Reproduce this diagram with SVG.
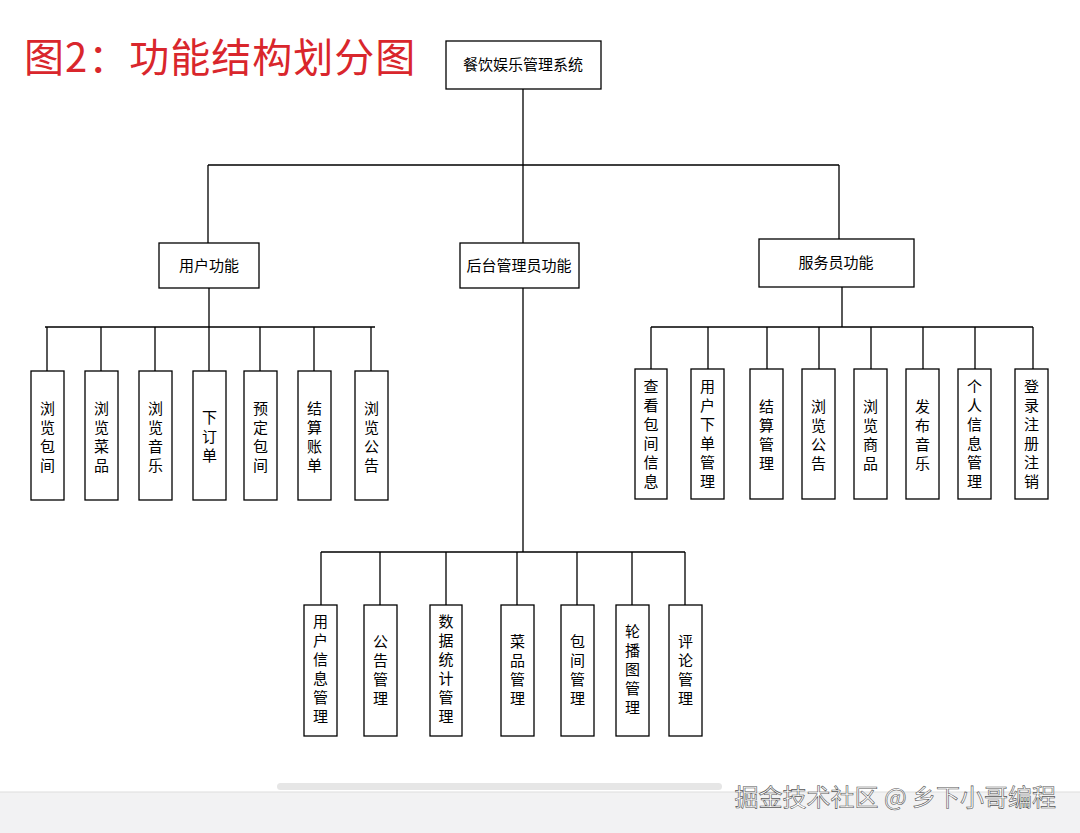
<svg xmlns="http://www.w3.org/2000/svg" width="1080" height="833" viewBox="0 0 1080 833">
<style>
.b{fill:#fff;stroke:#000;stroke-width:1.3}
.t{font-family:"Noto Sans CJK SC",sans-serif;font-size:15px;fill:#000;text-anchor:middle}
.v{font-family:"Noto Sans CJK SC",sans-serif;font-size:15px;fill:#000;text-anchor:middle}
#c path{fill:none;stroke:#000;stroke-width:1.3}
</style>
<rect width="1080" height="833" fill="#fff"/>
<text x="24" y="72" font-family="Noto Sans CJK SC,sans-serif" font-size="40" letter-spacing="1" fill="#d9262c">图2：功能结构划分图</text>
<g id="c">
<path d="M523 89V243M208 165H839M208 165V243M839 165V239"/>
<path d="M209 288V327M45 327H375M47 327V371M101 327V371M155 327V371M209 327V371M260 327V371M314 327V371M371 327V371"/>
<path d="M842 287V327M651 327H1033M651 327V369M708 327V369M767 327V369M819 327V369M871 327V369M923 327V369M975 327V369M1033 327V369"/>
<path d="M523 288V552M321 552H685M321 552V605M380 552V605M446 552V605M517 552V605M577 552V605M632 552V605M685 552V605"/>
</g>
<g id="root"><rect class="b" x="446" y="41" width="155" height="48"/><text class="t" x="523" y="70">餐饮娱乐管理系统</text></g>
<g id="user"><rect class="b" x="159" y="243" width="100" height="45"/><text class="t" x="209" y="271">用户功能</text></g>
<g id="admin"><rect class="b" x="460" y="243" width="119" height="45"/><text class="t" x="519" y="271">后台管理员功能</text></g>
<g id="service"><rect class="b" x="759" y="239" width="155" height="48"/><text class="t" x="836" y="268">服务员功能</text></g>
<g id="u1"><rect class="b" x="31" y="371" width="33" height="129"/><text class="v" x="47.5"><tspan x="47.5" y="414">浏</tspan><tspan x="47.5" dy="19">览</tspan><tspan x="47.5" dy="19">包</tspan><tspan x="47.5" dy="19">间</tspan></text></g>
<g id="u2"><rect class="b" x="85" y="371" width="33" height="129"/><text class="v"><tspan x="101.5" y="414">浏</tspan><tspan x="101.5" dy="19">览</tspan><tspan x="101.5" dy="19">菜</tspan><tspan x="101.5" dy="19">品</tspan></text></g>
<g id="u3"><rect class="b" x="139" y="371" width="33" height="129"/><text class="v"><tspan x="155.5" y="414">浏</tspan><tspan x="155.5" dy="19">览</tspan><tspan x="155.5" dy="19">音</tspan><tspan x="155.5" dy="19">乐</tspan></text></g>
<g id="u4"><rect class="b" x="193" y="371" width="33" height="129"/><text class="v"><tspan x="209.5" y="423">下</tspan><tspan x="209.5" dy="19">订</tspan><tspan x="209.5" dy="19">单</tspan></text></g>
<g id="u5"><rect class="b" x="244" y="371" width="33" height="129"/><text class="v"><tspan x="260.5" y="414">预</tspan><tspan x="260.5" dy="19">定</tspan><tspan x="260.5" dy="19">包</tspan><tspan x="260.5" dy="19">间</tspan></text></g>
<g id="u6"><rect class="b" x="298" y="371" width="33" height="129"/><text class="v"><tspan x="314.5" y="414">结</tspan><tspan x="314.5" dy="19">算</tspan><tspan x="314.5" dy="19">账</tspan><tspan x="314.5" dy="19">单</tspan></text></g>
<g id="u7"><rect class="b" x="355" y="371" width="33" height="129"/><text class="v"><tspan x="371.5" y="414">浏</tspan><tspan x="371.5" dy="19">览</tspan><tspan x="371.5" dy="19">公</tspan><tspan x="371.5" dy="19">告</tspan></text></g>
<g id="s1"><rect class="b" x="635" y="369" width="32" height="130"/><text class="v"><tspan x="651" y="392">查</tspan><tspan x="651" dy="19">看</tspan><tspan x="651" dy="19">包</tspan><tspan x="651" dy="19">间</tspan><tspan x="651" dy="19">信</tspan><tspan x="651" dy="19">息</tspan></text></g>
<g id="s2"><rect class="b" x="691" y="369" width="33" height="130"/><text class="v"><tspan x="707.5" y="392">用</tspan><tspan x="707.5" dy="19">户</tspan><tspan x="707.5" dy="19">下</tspan><tspan x="707.5" dy="19">单</tspan><tspan x="707.5" dy="19">管</tspan><tspan x="707.5" dy="19">理</tspan></text></g>
<g id="s3"><rect class="b" x="750" y="369" width="33" height="130"/><text class="v"><tspan x="766.5" y="412">结</tspan><tspan x="766.5" dy="19">算</tspan><tspan x="766.5" dy="19">管</tspan><tspan x="766.5" dy="19">理</tspan></text></g>
<g id="s4"><rect class="b" x="802" y="369" width="33" height="130"/><text class="v"><tspan x="818.5" y="412">浏</tspan><tspan x="818.5" dy="19">览</tspan><tspan x="818.5" dy="19">公</tspan><tspan x="818.5" dy="19">告</tspan></text></g>
<g id="s5"><rect class="b" x="854" y="369" width="33" height="130"/><text class="v"><tspan x="870.5" y="412">浏</tspan><tspan x="870.5" dy="19">览</tspan><tspan x="870.5" dy="19">商</tspan><tspan x="870.5" dy="19">品</tspan></text></g>
<g id="s6"><rect class="b" x="906" y="369" width="33" height="130"/><text class="v"><tspan x="922.5" y="412">发</tspan><tspan x="922.5" dy="19">布</tspan><tspan x="922.5" dy="19">音</tspan><tspan x="922.5" dy="19">乐</tspan></text></g>
<g id="s7"><rect class="b" x="958" y="369" width="33" height="130"/><text class="v"><tspan x="974.5" y="392">个</tspan><tspan x="974.5" dy="19">人</tspan><tspan x="974.5" dy="19">信</tspan><tspan x="974.5" dy="19">息</tspan><tspan x="974.5" dy="19">管</tspan><tspan x="974.5" dy="19">理</tspan></text></g>
<g id="s8"><rect class="b" x="1015" y="369" width="33" height="130"/><text class="v"><tspan x="1031.5" y="392">登</tspan><tspan x="1031.5" dy="19">录</tspan><tspan x="1031.5" dy="19">注</tspan><tspan x="1031.5" dy="19">册</tspan><tspan x="1031.5" dy="19">注</tspan><tspan x="1031.5" dy="19">销</tspan></text></g>
<g id="a1"><rect class="b" x="304" y="605" width="33" height="131"/><text class="v"><tspan x="320.5" y="627">用</tspan><tspan x="320.5" dy="19">户</tspan><tspan x="320.5" dy="19">信</tspan><tspan x="320.5" dy="19">息</tspan><tspan x="320.5" dy="19">管</tspan><tspan x="320.5" dy="19">理</tspan></text></g>
<g id="a2"><rect class="b" x="364" y="605" width="33" height="131"/><text class="v"><tspan x="380.5" y="647">公</tspan><tspan x="380.5" dy="19">告</tspan><tspan x="380.5" dy="19">管</tspan><tspan x="380.5" dy="19">理</tspan></text></g>
<g id="a3"><rect class="b" x="430" y="605" width="32" height="131"/><text class="v"><tspan x="446" y="627">数</tspan><tspan x="446" dy="19">据</tspan><tspan x="446" dy="19">统</tspan><tspan x="446" dy="19">计</tspan><tspan x="446" dy="19">管</tspan><tspan x="446" dy="19">理</tspan></text></g>
<g id="a4"><rect class="b" x="501" y="605" width="33" height="131"/><text class="v"><tspan x="517.5" y="647">菜</tspan><tspan x="517.5" dy="19">品</tspan><tspan x="517.5" dy="19">管</tspan><tspan x="517.5" dy="19">理</tspan></text></g>
<g id="a5"><rect class="b" x="561" y="605" width="33" height="131"/><text class="v"><tspan x="577.5" y="647">包</tspan><tspan x="577.5" dy="19">间</tspan><tspan x="577.5" dy="19">管</tspan><tspan x="577.5" dy="19">理</tspan></text></g>
<g id="a6"><rect class="b" x="616" y="605" width="33" height="131"/><text class="v"><tspan x="632.5" y="637">轮</tspan><tspan x="632.5" dy="19">播</tspan><tspan x="632.5" dy="19">图</tspan><tspan x="632.5" dy="19">管</tspan><tspan x="632.5" dy="19">理</tspan></text></g>
<g id="a7"><rect class="b" x="669" y="605" width="33" height="131"/><text class="v"><tspan x="685.5" y="647">评</tspan><tspan x="685.5" dy="19">论</tspan><tspan x="685.5" dy="19">管</tspan><tspan x="685.5" dy="19">理</tspan></text></g>
<rect x="0" y="792" width="1080" height="41" fill="#f2f2f3"/>
<line x1="0" y1="792" x2="1080" y2="792" stroke="#ddd"/>
<rect x="277" y="783" width="445" height="7" rx="3.5" fill="#e6e6e6"/>
<text x="1056" y="806" text-anchor="end" font-family="Noto Sans CJK SC,sans-serif" font-size="24" fill="#fff" stroke="#555" stroke-width="0.6">掘金技术社区 @ 乡下小哥编程</text>
</svg>
